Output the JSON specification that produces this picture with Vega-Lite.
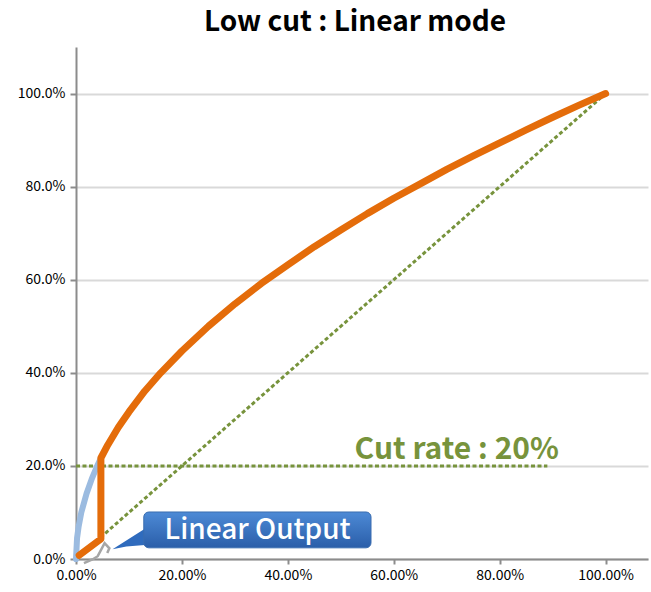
{
  "$schema": "https://vega.github.io/schema/vega-lite/v6.json",
  "width": 572,
  "height": 512,
  "autosize": {"type": "none"},
  "padding": {"left": 76, "top": 47, "right": 3, "bottom": 33},
  "background": "#ffffff",
  "title": {"text": "Low cut : Linear mode", "font": "Noto Sans CJK KR", "fontSize": 28, "fontWeight": "bold", "color": "#000000", "anchor": "middle", "frame": "group", "dx": -7, "offset": 10},
  "config": {"view": {"stroke": null}},
  "datasets": {
    "diag": [{"x": 0, "y": 0, "i": 0}, {"x": 1, "y": 1, "i": 1}],
    "cut": [{"x": 0, "y": 0.2, "i": 0}, {"x": 0.89, "y": 0.2, "i": 1}],
    "blue": [
      {"x": 0.0, "y": 0.0, "i": 0}, {"x": 0.002, "y": 0.045, "i": 1}, {"x": 0.005, "y": 0.07, "i": 2},
      {"x": 0.01, "y": 0.1, "i": 3}, {"x": 0.02, "y": 0.141, "i": 4}, {"x": 0.03, "y": 0.173, "i": 5},
      {"x": 0.04, "y": 0.2, "i": 6}, {"x": 0.047, "y": 0.217, "i": 7}
    ],
    "gray": [
      {"x": 0.015, "y": -0.009, "i": 0}, {"x": 0.031, "y": -0.001, "i": 1}, {"x": 0.041, "y": 0.006, "i": 2},
      {"x": 0.054, "y": 0.034, "i": 3}, {"x": 0.063, "y": 0.023, "i": 4}, {"x": 0.059, "y": 0.013, "i": 5}
    ],
    "orange": [
      {"x": 0.006, "y": 0.008, "i": 0}, {"x": 0.047, "y": 0.043, "i": 1}, {"x": 0.047, "y": 0.217, "i": 2},
      {"x": 0.06, "y": 0.245, "i": 3}, {"x": 0.08, "y": 0.283, "i": 4}, {"x": 0.10, "y": 0.316, "i": 5},
      {"x": 0.13, "y": 0.361, "i": 6}, {"x": 0.16, "y": 0.4, "i": 7}, {"x": 0.2, "y": 0.447, "i": 8},
      {"x": 0.25, "y": 0.5, "i": 9}, {"x": 0.3, "y": 0.548, "i": 10}, {"x": 0.35, "y": 0.592, "i": 11},
      {"x": 0.4, "y": 0.632, "i": 12}, {"x": 0.45, "y": 0.671, "i": 13}, {"x": 0.5, "y": 0.707, "i": 14},
      {"x": 0.55, "y": 0.742, "i": 15}, {"x": 0.6, "y": 0.775, "i": 16}, {"x": 0.65, "y": 0.806, "i": 17},
      {"x": 0.7, "y": 0.837, "i": 18}, {"x": 0.75, "y": 0.866, "i": 19}, {"x": 0.8, "y": 0.894, "i": 20},
      {"x": 0.85, "y": 0.922, "i": 21}, {"x": 0.9, "y": 0.949, "i": 22}, {"x": 0.95, "y": 0.975, "i": 23},
      {"x": 1.0, "y": 1.0, "i": 24}
    ],
    "tail": [{"x": 0.069, "y": 0.021, "y2": 0.021}, {"x": 0.095, "y": 0.027, "y2": 0.04}, {"x": 0.13, "y": 0.03, "y2": 0.065}],
    "box": [{"x": 0.128, "x2": 0.557, "y": 0.024, "y2": 0.101}],
    "boxlabel": [{"x": 0.343, "y": 0.062, "label": "Linear Output"}],
    "cutlabel": [{"x": 0.526, "y": 0.234, "label": "Cut rate : 20%"}]
  },
  "encoding": {
    "x": {"field": "x", "type": "quantitative", "scale": {"domain": [0, 1.08], "nice": false, "zero": false},
      "axis": {"values": [0, 0.2, 0.4, 0.6, 0.8, 1.0], "format": ".2%", "title": null, "grid": false,
        "domainColor": "#8c8c8c", "domainWidth": 2, "tickColor": "#8c8c8c", "tickWidth": 2, "tickSize": 5,
        "labelFont": "Noto Sans CJK KR", "labelFontSize": 14, "labelColor": "#000000", "labelPadding": 4,
        "labelFlush": false}},
    "y": {"field": "y", "type": "quantitative", "scale": {"domain": [0, 1.1], "nice": false, "zero": false},
      "axis": {"values": [0, 0.2, 0.4, 0.6, 0.8, 1.0], "format": ".1%", "title": null, "grid": true,
        "gridColor": "#d9d9d9", "gridWidth": 2, "domainColor": "#8c8c8c", "domainWidth": 2,
        "tickColor": "#8c8c8c", "tickWidth": 2, "tickSize": 6, "labelFont": "Noto Sans CJK KR",
        "labelFontSize": 14, "labelColor": "#000000", "labelPadding": 5, "labelFlush": false}}
  },
  "layer": [
    {"data": {"name": "diag"}, "mark": {"type": "line", "color": "#77933c", "strokeWidth": 3, "strokeDash": [4, 2.5]},
      "encoding": {"order": {"field": "i"}}},
    {"data": {"name": "cut"}, "mark": {"type": "line", "color": "#77933c", "strokeWidth": 3, "strokeDash": [4, 2.5]},
      "encoding": {"order": {"field": "i"}}},
    {"data": {"name": "blue"}, "mark": {"type": "line", "color": "#9bbbe0", "strokeWidth": 6, "strokeCap": "round"},
      "encoding": {"order": {"field": "i"}}},
    {"data": {"name": "gray"}, "mark": {"type": "line", "color": "#a6a6a6", "strokeWidth": 2.5, "clip": false},
      "encoding": {"order": {"field": "i"}}},
    {"data": {"name": "orange"}, "mark": {"type": "line", "color": "#e46c0a", "strokeWidth": 7, "strokeCap": "round", "strokeJoin": "round"},
      "encoding": {"order": {"field": "i"}}},
    {"data": {"name": "tail"}, "mark": {"type": "area", "color": "#2f6bbd", "orient": "vertical"},
      "encoding": {"y2": {"field": "y2"}}},
    {"data": {"name": "box"}, "mark": {"type": "rect", "cornerRadius": 5, "stroke": "#3a6db0", "strokeWidth": 1,
        "fill": {"gradient": "linear", "x1": 0, "y1": 0, "x2": 0, "y2": 1,
          "stops": [{"offset": 0, "color": "#4d8ad6"}, {"offset": 1, "color": "#2a5ea9"}]}},
      "encoding": {"x2": {"field": "x2"}, "y2": {"field": "y2"}}},
    {"data": {"name": "boxlabel"}, "mark": {"type": "text", "font": "Noto Sans CJK KR", "fontSize": 28, "fontWeight": 500, "color": "#ffffff", "align": "center", "baseline": "middle", "dy": 1},
      "encoding": {"text": {"field": "label"}}},
    {"data": {"name": "cutlabel"}, "mark": {"type": "text", "font": "Noto Sans CJK KR", "fontSize": 30, "fontWeight": "bold", "color": "#77933c", "align": "left", "baseline": "middle"},
      "encoding": {"text": {"field": "label"}}}
  ]
}
